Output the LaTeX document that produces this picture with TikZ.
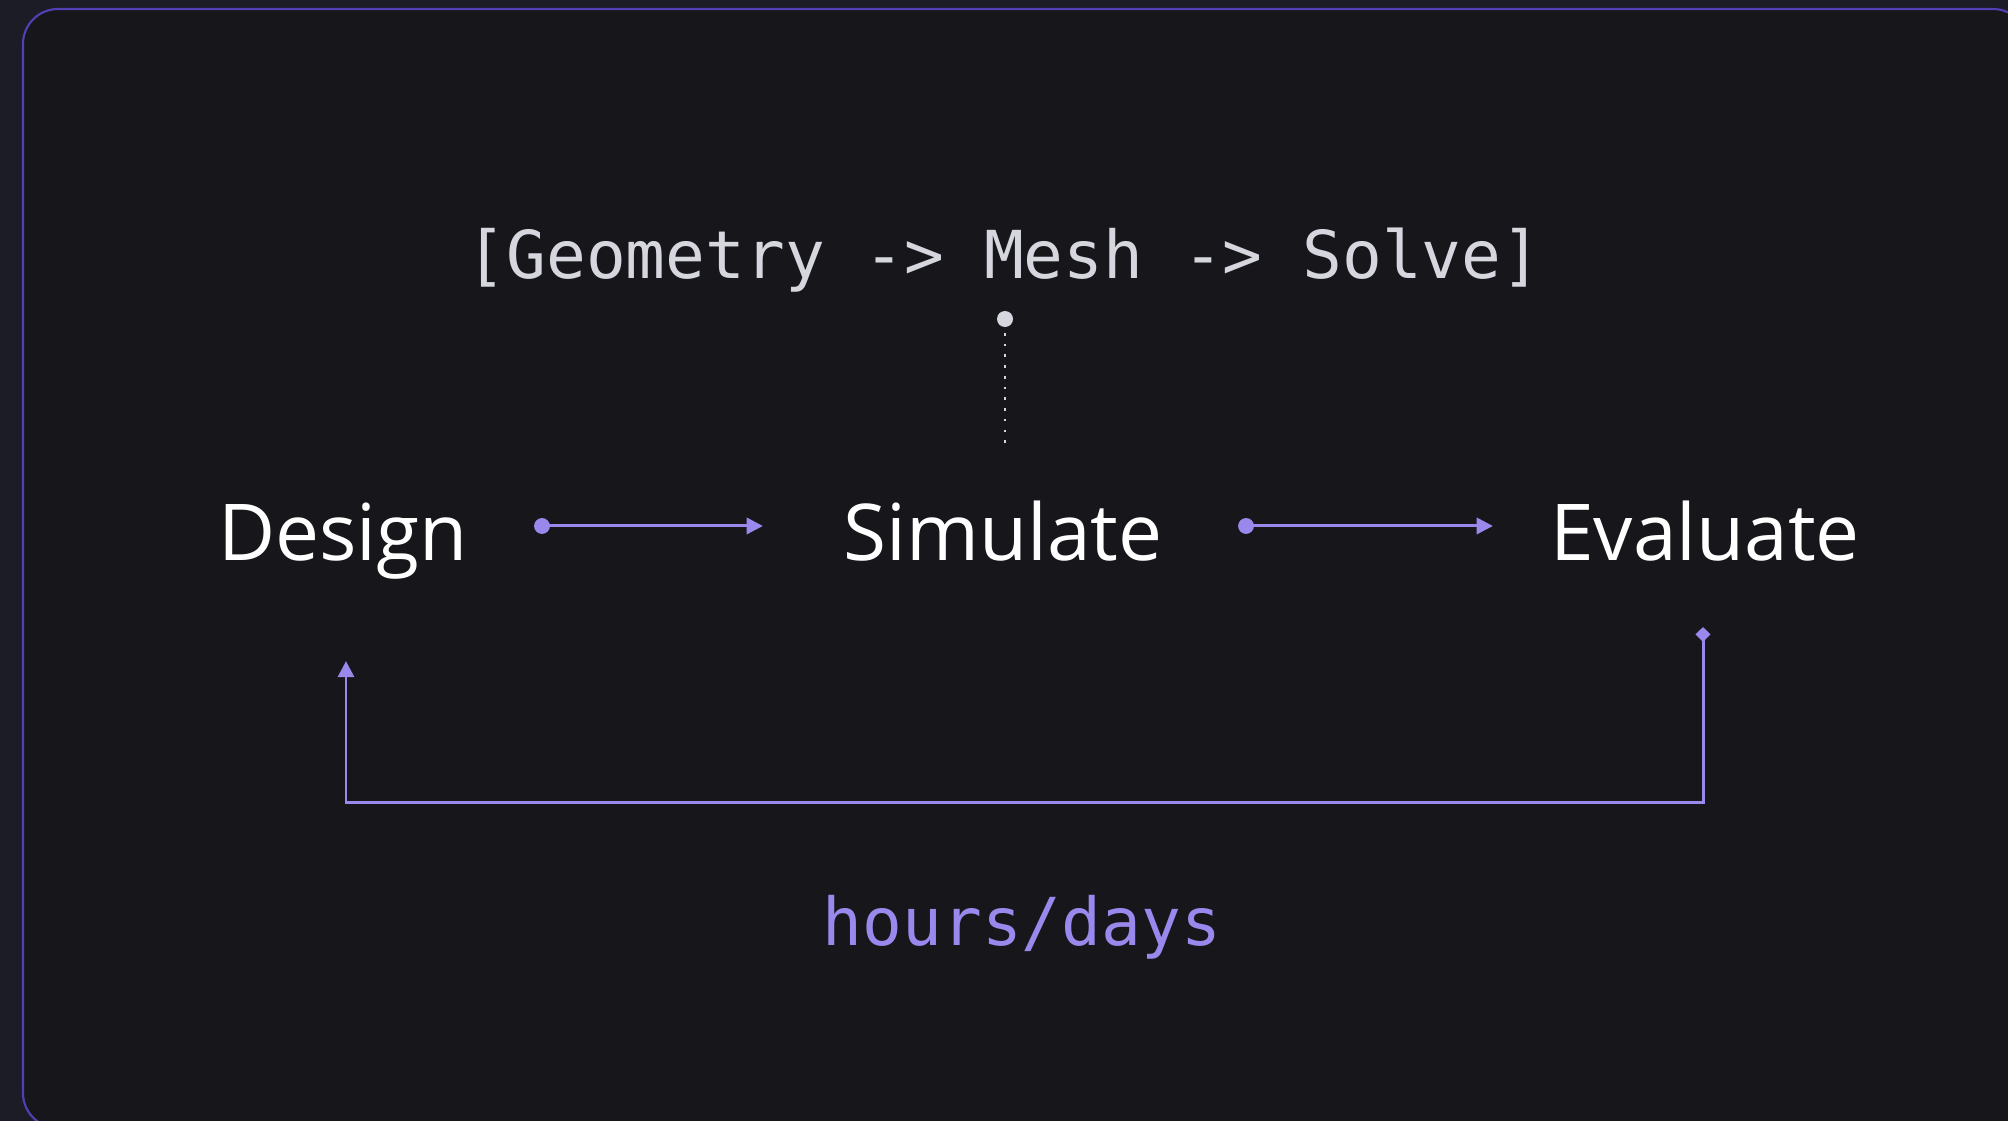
\documentclass[tikz,border=0pt]{standalone}
\usepackage{fontspec}
\setmainfont{Open Sans}
\setmonofont{DejaVu Sans Mono}
\usetikzlibrary{arrows.meta}
\definecolor{pagebg}{HTML}{1C1C26}
\definecolor{panelbg}{HTML}{16161B}
\definecolor{panelrim}{HTML}{5241B4}
\definecolor{flowc}{HTML}{9A88EC}
\definecolor{pipec}{HTML}{D6D6DE}
\tikzset{
  stage/.style={text=white,inner sep=0pt,anchor=base,font=\fontsize{22.3}{27}\selectfont},
  pipetext/.style={text=pipec,inner sep=0pt,anchor=base,font=\ttfamily\fontsize{18.8}{22}\selectfont},
  costtext/.style={text=flowc,inner sep=0pt,anchor=base,font=\ttfamily\fontsize{18.8}{22}\selectfont},
  flow/.style={draw=flowc,line width=0.85pt,{Circle[length=4.5pt]}-{Triangle[length=4.6pt,width=4.6pt]}},
  loopback/.style={draw=flowc,line width=0.85pt,{Diamond[length=4.2pt,width=4.3pt]}-{Triangle[length=4.6pt,width=4.6pt]}},
  tapline/.style={draw=pipec,line width=0.75pt,dash pattern=on 0.75pt off 2.3pt}
}
\begin{document}
\begin{tikzpicture}[x=0.01cm,y=-0.01cm]
% ---------- frame ----------
\fill[pagebg] (0,0) rectangle (2008,1121);
\useasboundingbox (0,0) rectangle (2008,1121);
\begin{scope}
  \clip (0,0) rectangle (2008,1121);
  \filldraw[fill=panelbg,draw=panelrim,line width=0.6pt,rounded corners=0.35cm] (23,9) rectangle (2028,1128);
\end{scope}
% ---------- stages ----------
\node[stage] (des) at (343,560) {Design};
\node[stage] (sim) at (1003,560) {Simulate};
\node[stage] (eva) at (1705,560) {Evaluate};
\draw[flow] ([shift={(1.91cm,0.34cm)}]des.base) -- ([shift={(-2.40cm,0.34cm)}]sim.base);
\draw[flow] ([shift={(2.35cm,0.34cm)}]sim.base) -- ([shift={(-2.12cm,0.34cm)}]eva.base);
% ---------- pipeline detail ----------
\node[pipetext] (pipe) at (1004,278) {[Geometry -> Mesh -> Solve]};
\coordinate (tap) at (1005,319);
\coordinate (tapend) at ([yshift=0.55cm]sim.north);
\fill[pipec] (tap) circle (8);
\draw[tapline,shorten <=0.14cm] (tap) -- (tap |- tapend);
% ---------- feedback loop ----------
\draw[loopback] ([shift={(-0.02cm,-0.67cm)}]eva.base) -- ([shift={(-0.02cm,-2.42cm)}]eva.base) -| ([shift={(0.03cm,-1.01cm)}]des.base);
\node[costtext] (cost) at (1022,945) {hours/days};
\end{tikzpicture}
\end{document}
